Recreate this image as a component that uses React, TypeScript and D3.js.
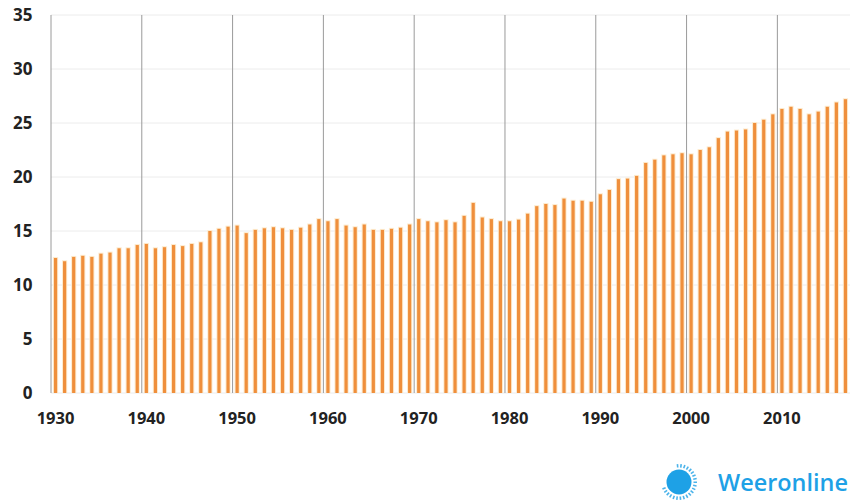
import React from "react";
import * as d3 from "d3";

const width = 851;
const height = 503;
const margin = { top: 15, right: 1, bottom: 110, left: 51 };

// years on the x axis (1930 - 2017)
const years = d3.range(1930, 2018);

// bar values, one per year
const values = [
  12.5, 12.2, 12.6, 12.7, 12.6, 12.9, 13.0, 13.4, 13.4, 13.7,
  13.8, 13.4, 13.5, 13.7, 13.6, 13.8, 13.95, 15.0, 15.2, 15.4,
  15.5, 14.8, 15.1, 15.25, 15.35, 15.25, 15.1, 15.3, 15.6, 16.1,
  15.9, 16.1, 15.5, 15.35, 15.6, 15.1, 15.1, 15.2, 15.3, 15.6,
  16.1, 15.9, 15.8, 16.0, 15.8, 16.4, 17.6, 16.25, 16.1, 15.9,
  15.9, 16.05, 16.6, 17.3, 17.5, 17.4, 18.0, 17.8, 17.8, 17.7,
  18.4, 18.8, 19.8, 19.85, 20.1, 21.3, 21.6, 22.0, 22.1, 22.2,
  22.1, 22.5, 22.75, 23.6, 24.2, 24.3, 24.4, 25.0, 25.3, 25.8,
  26.3, 26.5, 26.3, 25.8, 26.05, 26.5, 26.9, 27.2,
];

const xTicks = [1930, 1940, 1950, 1960, 1970, 1980, 1990, 2000, 2010];
const yTicks = [0, 5, 10, 15, 20, 25, 30, 35];

const barColor = "#ef8f3c";
const logoBlue = "#1ea1e6";

export default function App() {
  const x = d3
    .scaleBand<number>()
    .domain(years)
    .range([margin.left, width - margin.right]);

  const y = d3
    .scaleLinear()
    .domain([0, 35])
    .range([height - margin.bottom, margin.top]);

  const barW = 3.2;
  const font = "'Open Sans', 'Noto Sans', sans-serif";

  // little dashes round the logo sun
  const rays = d3.range(-95, 160, 12);

  return (
    <svg
      width={width}
      height={height}
      style={{ position: "absolute", left: 0, top: 0, background: "#fff" }}
      fontFamily={font}
    >
      {/* horizontal grid */}
      {yTicks.map((t) => (
        <line
          key={"h" + t}
          x1={margin.left}
          x2={width - margin.right}
          y1={y(t)}
          y2={y(t)}
          stroke="#ececec"
          strokeWidth={1}
        />
      ))}

      {/* bars, with a soft halo */}
      {years.map((yr, i) => (
        <rect
          key={"g" + yr}
          x={x(yr)! + x.bandwidth() / 2 - barW / 2 - 1}
          y={y(values[i]) - 1}
          width={barW + 2}
          height={y(0) - y(values[i]) + 1}
          fill="#fdebcf"
        />
      ))}
      {years.map((yr, i) => (
        <rect
          key={"b" + yr}
          x={x(yr)! + x.bandwidth() / 2 - barW / 2}
          y={y(values[i])}
          width={barW}
          height={y(0) - y(values[i])}
          fill={barColor}
        />
      ))}

      {/* decade lines */}
      {xTicks.map((t) => (
        <line
          key={"v" + t}
          x1={x(t)!}
          x2={x(t)!}
          y1={y(35)}
          y2={y(0)}
          stroke="#9a9a9a"
          strokeWidth={1}
        />
      ))}

      {/* y labels */}
      {yTicks.map((t) => (
        <text
          key={"yl" + t}
          x={32.5}
          y={y(t)}
          dy="0.36em"
          textAnchor="end"
          fontSize={17}
          fontWeight="bold"
          fill="#222"
        >
          {t}
        </text>
      ))}

      {/* x labels */}
      {xTicks.map((t) => (
        <text
          key={"xl" + t}
          x={x(t)! + x.bandwidth() / 2}
          y={y(0) + 25}
          dy="0.36em"
          textAnchor="middle"
          fontSize={16.5}
          fontWeight="bold"
          fill="#222"
        >
          {t}
        </text>
      ))}

      {/* Weeronline logo */}
      <g transform="translate(679,482)">
        <circle r={12.5} fill={logoBlue} />
        {rays.map((a) => {
          const r = (a * Math.PI) / 180;
          return (
            <line
              key={"r" + a}
              x1={Math.cos(r) * 14.5}
              y1={Math.sin(r) * 14.5}
              x2={Math.cos(r) * 18}
              y2={Math.sin(r) * 18}
              stroke={logoBlue}
              strokeWidth={1.6}
              opacity={0.8}
            />
          );
        })}
      </g>
      <text
        x={718}
        y={491}
        fontSize={23}
        fontWeight="600"
        fill={logoBlue}
        fontFamily={font}
        textLength={130}
        lengthAdjust="spacingAndGlyphs"
      >
        Weeronline
      </text>
    </svg>
  );
}
